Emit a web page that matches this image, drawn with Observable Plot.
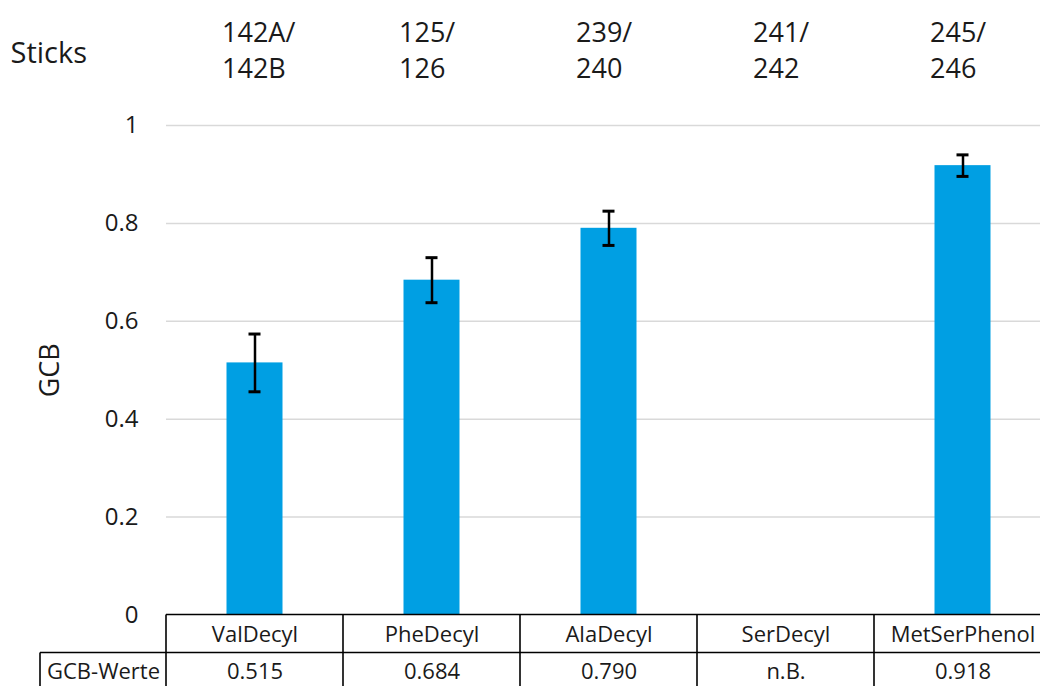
<!DOCTYPE html>
<html><head><meta charset="utf-8">
<script src="https://cdn.jsdelivr.net/npm/d3@7"></script>
<script src="https://cdn.jsdelivr.net/npm/@observablehq/plot@0.6"></script>
<style>body{margin:0;background:#fff}</style>
</head><body><div id="chart"></div>
<script>
const categories = ["ValDecyl", "PheDecyl", "AlaDecyl", "SerDecyl", "MetSerPhenol"];
const sticks = ["142A/\n142B", "125/\n126", "239/\n240", "241/\n242", "245/\n246"];
const gcb = [0.515, 0.684, 0.790, null, 0.918];
const errors = [0.059, 0.046, 0.035, null, 0.022];
const tableValues = ["0.515", "0.684", "0.790", "n.B.", "0.918"];
const yTicks = [0, 0.2, 0.4, 0.6, 0.8, 1];
const rowLabel = "GCB-Werte";
const sticksTitle = "Sticks";
const yTitle = "GCB";

const data = categories.map((c, i) => ({cat: c, stick: sticks[i], value: gcb[i], err: errors[i], label: tableValues[i]}));
const bars = data.filter(d => d.value != null);

function tableLines(index, scales, values, dim) {
  const x = scales.x, y = scales.y;
  const step = x(categories[1]) - x(categories[0]);
  const x0 = x(categories[0]);
  const x1 = x(categories[categories.length - 1]) + step;
  const top = y(0);
  const rowH = 38;
  const xl = x0 - 126;
  const g = d3.create("svg:g").attr("stroke", "#000").attr("stroke-width", 1.6).attr("fill", "none");
  g.append("line").attr("x1", x0).attr("x2", x1).attr("y1", top).attr("y2", top);
  g.append("line").attr("x1", xl).attr("x2", x1).attr("y1", top + rowH).attr("y2", top + rowH);
  const xs = categories.map(c => x(c)).concat([x1]);
  for (const xv of xs) g.append("line").attr("x1", xv).attr("x2", xv).attr("y1", top).attr("y2", dim.height);
  g.append("line").attr("x1", xl).attr("x2", xl).attr("y1", top + rowH).attr("y2", dim.height);
  return g.node();
}

const chart = Plot.plot({
  width: 1040,
  height: 686,
  marginTop: 125,
  marginBottom: 71.5,
  marginLeft: 166,
  marginRight: 0,
  style: {fontFamily: "Open Sans", color: "#1a1a1a", background: "#fff"},
  x: {domain: categories, range: [166, 1051], padding: 0, axis: null},
  y: {domain: [0, 1]},
  marks: [
    Plot.gridY(yTicks.filter(t => t > 0), {stroke: "#d9d9d9", strokeOpacity: 1, strokeWidth: 1.5}),
    Plot.axisY({ticks: yTicks, tickSize: 0, tickPadding: 28, fontSize: 24, label: null,
      tickFormat: d => (d === 0 || d === 1) ? String(d) : d.toFixed(1)}),
    Plot.text([yTitle], {frameAnchor: "left", textAnchor: "middle", lineAnchor: "middle", rotate: -90, dx: -116, fontSize: 27}),
    Plot.barY(bars, {x: "cat", y: "value", fill: "#009FE3", insetLeft: 60.5, insetRight: 60.5}),
    Plot.ruleX(bars, {x: "cat", y1: d => d.value - d.err, y2: d => d.value + d.err, stroke: "#000", strokeWidth: 2.5}),
    Plot.tickY(bars, {x: "cat", y: d => d.value + d.err, stroke: "#000", strokeWidth: 3, insetLeft: 82.5, insetRight: 82.5}),
    Plot.tickY(bars, {x: "cat", y: d => d.value - d.err, stroke: "#000", strokeWidth: 3, insetLeft: 82.5, insetRight: 82.5}),
    Plot.text(data, {x: "cat", text: "stick", frameAnchor: "top", textAnchor: "start", lineAnchor: "middle", dx: -33, dy: -77, fontSize: 27, lineHeight: 1.33}),
    Plot.text([sticksTitle], {frameAnchor: "top-left", textAnchor: "start", lineAnchor: "middle", dx: -156, dy: -72, fontSize: 29}),
    tableLines,
    Plot.text(data, {x: "cat", text: "cat", frameAnchor: "bottom", lineAnchor: "middle", dy: 19.5, fontSize: 22}),
    Plot.text(data, {x: "cat", text: "label", frameAnchor: "bottom", lineAnchor: "middle", dy: 57, fontSize: 22}),
    Plot.text([rowLabel], {frameAnchor: "bottom-left", textAnchor: "middle", lineAnchor: "middle", dx: -63, dy: 57, fontSize: 22})
  ]
});
document.getElementById("chart").appendChild(chart);
</script>
</body></html>
